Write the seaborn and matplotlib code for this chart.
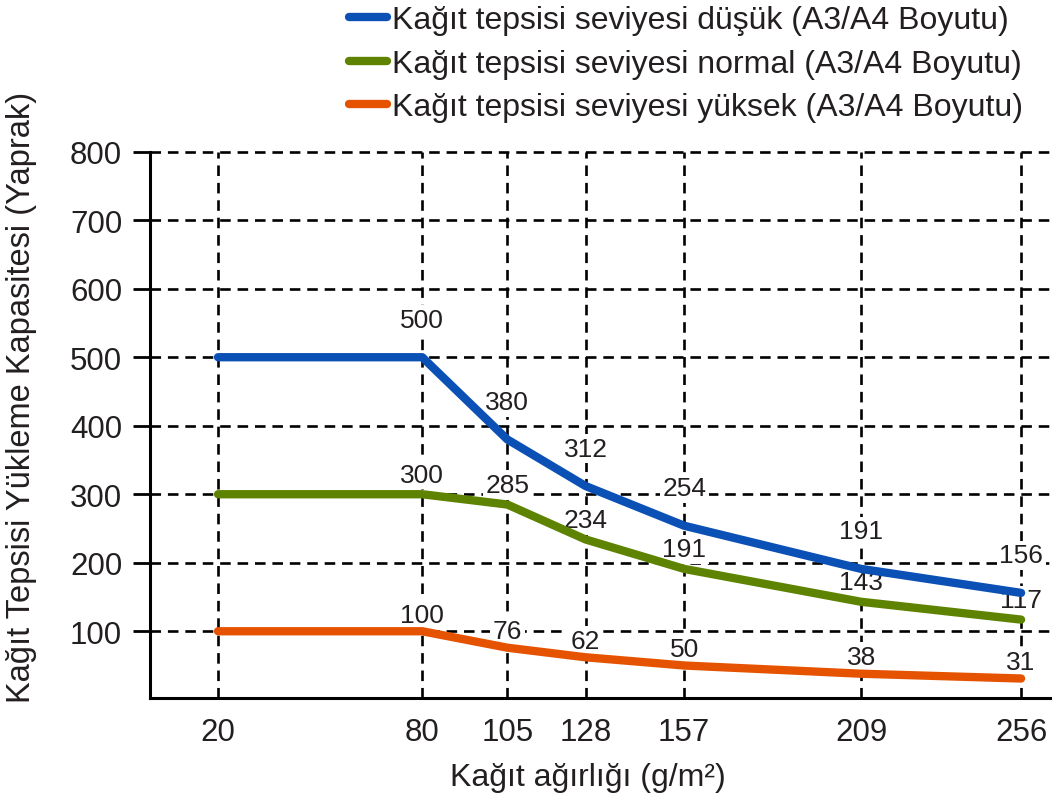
import matplotlib
matplotlib.use("Agg")
import matplotlib.pyplot as plt
import seaborn as sns
import pandas as pd

# ---- data ----
weights = [20, 80, 105, 128, 157, 209, 256]
series_names = [
    "Kağıt tepsisi seviyesi düşük (A3/A4 Boyutu)",
    "Kağıt tepsisi seviyesi normal (A3/A4 Boyutu)",
    "Kağıt tepsisi seviyesi yüksek (A3/A4 Boyutu)",
]
low_values = [500, 500, 380, 312, 254, 191, 156]
normal_values = [300, 300, 285, 234, 191, 143, 117]
high_values = [100, 100, 76, 62, 50, 38, 31]
y_ticks = [100, 200, 300, 400, 500, 600, 700, 800]
x_label = "Kağıt ağırlığı (g/m²)"
y_label = "Kağıt Tepsisi Yükleme Kapasitesi (Yaprak)"

# ---- style ----
sns.set_theme(style="white")
plt.rcParams["font.family"] = ["Liberation Sans", "DejaVu Sans"]
TXT = "#231f20"
colors = ["#0b50b5", "#5e8300", "#e65300"]
label_offsets = [27, 14, 12]  # points above each point, per series

df = pd.concat([
    pd.DataFrame({"w": weights, "v": vals, "s": name})
    for name, vals in zip(series_names, [low_values, normal_values, high_values])
])

W, H = 1055, 803
fig = plt.figure(figsize=(W / 100, H / 100), dpi=100)
ax = fig.add_axes([150 / W, 1 - 698.7 / H, 900 / W, (698.7 - 152.7) / H])

sns.lineplot(data=df, x="w", y="v", hue="s", palette=colors, hue_order=series_names,
             linewidth=6, legend=False, ax=ax, zorder=3)
for ln in ax.get_lines():
    ln.set_solid_capstyle("round")
    ln.set_solid_joinstyle("round")

ax.set_xlim(0, 264.5)
ax.set_ylim(3, 800)
ax.set_xticks(weights)
ax.set_xticklabels([str(w) for w in weights])
ax.set_yticks(y_ticks)
ax.set_yticklabels([str(t) for t in y_ticks])
ax.set_xlabel("")
ax.set_ylabel("")

ax.grid(True, color="black", linestyle=(0, (4.0, 2.6)), linewidth=1.9)
ax.set_axisbelow(True)
for gl in ax.get_xgridlines() + ax.get_ygridlines():
    gl.set_clip_on(False)

for side in ["top", "right"]:
    ax.spines[side].set_visible(False)
for side in ["left", "bottom"]:
    ax.spines[side].set_linewidth(2.2)
    ax.spines[side].set_color("black")

ax.tick_params(axis="y", direction="out", length=12, width=2, pad=8,
               labelsize=22.5, labelcolor=TXT, color="black", left=True)
ax.tick_params(axis="x", length=0, pad=14, labelsize=22.5, labelcolor=TXT, bottom=True)

# value labels (white box hides grid, lines drawn over)
for vals, off in zip([low_values, normal_values, high_values], label_offsets):
    for x, v in list(zip(weights, vals))[1:]:
        ax.annotate(str(v), (x, v), xytext=(0, off), textcoords="offset points",
                    ha="center", va="center", fontsize=19, color=TXT, zorder=2.5,
                    bbox=dict(boxstyle="square,pad=0.1", fc="white", ec="none"))

# legend
handles = ax.get_lines()[:3]
leg = fig.legend(handles, series_names, loc="upper left",
                 bbox_to_anchor=(349 / W, 1 - 6 / H), frameon=False,
                 fontsize=23, handlelength=1.2, handletextpad=0.15,
                 labelspacing=0.43, borderpad=0, borderaxespad=0)
for t in leg.get_texts():
    t.set_color(TXT)
for lh in leg.get_lines():
    lh.set_linewidth(6)
    lh.set_solid_capstyle("round")

fig.text(22 / W, 1 - 397 / H, y_label, rotation=90, ha="center", va="center",
         fontsize=23.5, color=TXT)
fig.text(588 / W, 1 - 778 / H, x_label, ha="center", va="center",
         fontsize=23, color=TXT)

fig.savefig("out.png", dpi=100)
